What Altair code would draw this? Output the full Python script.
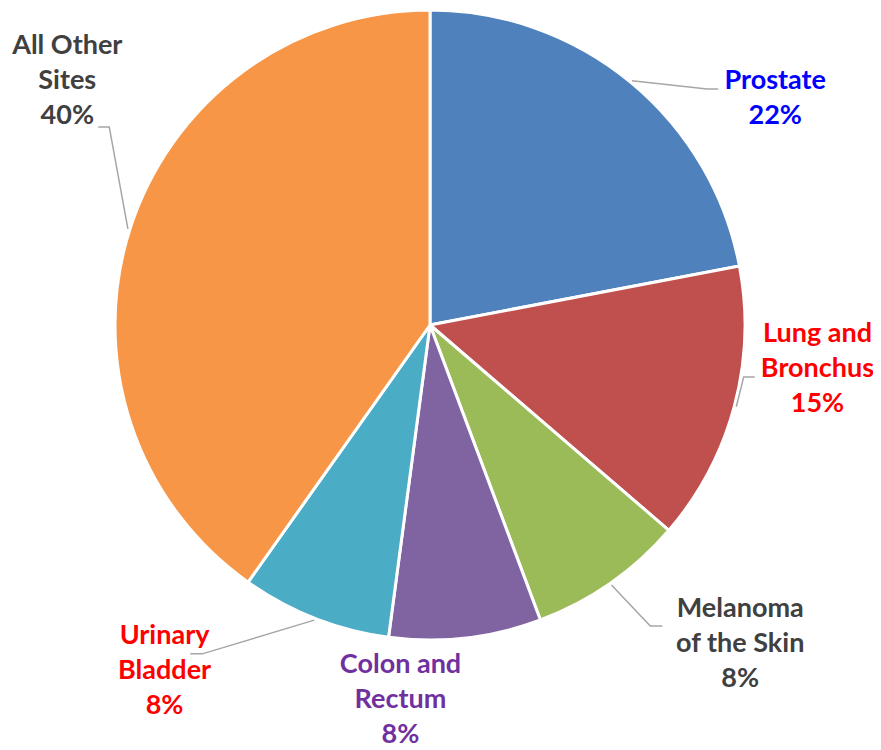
import math
import numpy as np
import pandas as pd
import altair as alt

# ---- data ----
sites = ["Prostate", "Lung and Bronchus", "Melanoma of the Skin",
         "Colon and Rectum", "Urinary Bladder", "All Other Sites"]
label_text = ["Prostate", "Lung and\nBronchus", "Melanoma\nof the Skin",
              "Colon and\nRectum", "Urinary\nBladder", "All Other\nSites"]
shares = [22.0, 14.3, 8.0, 7.8, 7.7, 40.2]
pct_labels = ["22%", "15%", "8%", "8%", "8%", "40%"]

# ---- styles ----
slice_colors = ["#4F81BD", "#C0504D", "#9BBB59", "#8064A2", "#4BACC6", "#F79646"]
text_colors = ["#0000FF", "#FF0000", "#404040", "#7030A0", "#FF0000", "#404040"]
LINE_H = 35

# ---- label layout (polar, relative to the pie centre) ----
label_angle = [56.7, 96.5, 135.8, 184.5, 217.5, 303.9]
label_radius = [413, 390, 445, 376, 436, 437]
elbow_angle = [49.6, 99.4, 143.8, None, 214.7, 301.7]
elbow_radius = [364, 318, 373, None, 400, 377]
tail_len = [11, 11, 12, 0, -12, -11]

W, H = 865, 742
CX, CY, R = 422, 317, 315


def polar(a_deg, r):
    a = math.radians(a_deg)
    return CX + r * math.sin(a), CY - r * math.cos(a)


total = sum(shares)
cum = np.cumsum(shares)
mid_angle = [(c - s / 2) / total * 360 for c, s in zip(cum, shares)]

pie_df = pd.DataFrame({"site": sites, "share": shares, "idx": range(len(sites))})

lab_rows = []
for i, s in enumerate(sites):
    txt = label_text[i] + "\n" + pct_labels[i]
    n = txt.count("\n") + 1
    x, y = polar(label_angle[i], label_radius[i])
    lab_rows.append({"site": s, "text": txt,
                     "x": x, "y": y - (n - 1) / 2 * LINE_H, "tc": text_colors[i]})
lab_df = pd.DataFrame(lab_rows)

line_rows = []
for i, s in enumerate(sites):
    if elbow_angle[i] is None:
        continue
    x0, y0 = polar(mid_angle[i], R + 2)
    x1, y1 = polar(elbow_angle[i], elbow_radius[i])
    x2, y2 = x1 + tail_len[i], y1
    for k, (px, py) in enumerate([(x0, y0), (x1, y1), (x2, y2)]):
        line_rows.append({"site": s, "k": k, "x": px, "y": py})
line_df = pd.DataFrame(line_rows)

pie = alt.Chart(pie_df).mark_arc(
    radius=R, stroke="white", strokeWidth=3
).encode(
    theta=alt.Theta("share:Q", stack=True),
    order=alt.Order("idx:Q"),
    color=alt.Color("site:N", scale=alt.Scale(domain=sites, range=slice_colors), legend=None),
    x=alt.value(CX),
    y=alt.value(CY),
)

leaders = alt.Chart(line_df).mark_line(color="#A6A6A6", strokeWidth=1.5).encode(
    x=alt.X("x:Q", scale=None),
    y=alt.Y("y:Q", scale=None),
    detail="site:N",
    order="k:Q",
)

labels = alt.Chart(lab_df).mark_text(
    font="Lato", fontWeight="bold", fontSize=27, lineHeight=LINE_H,
    align="center", baseline="middle", lineBreak="\n"
).encode(
    x=alt.X("x:Q", scale=None),
    y=alt.Y("y:Q", scale=None),
    text="text:N",
    color=alt.Color("tc:N", scale=None),
)

chart = alt.layer(pie, leaders, labels).properties(
    width=W, height=H, autosize="none", padding=0
).configure_view(stroke=None)

chart.save("out.html", embed_options={"renderer": "svg", "actions": False})
